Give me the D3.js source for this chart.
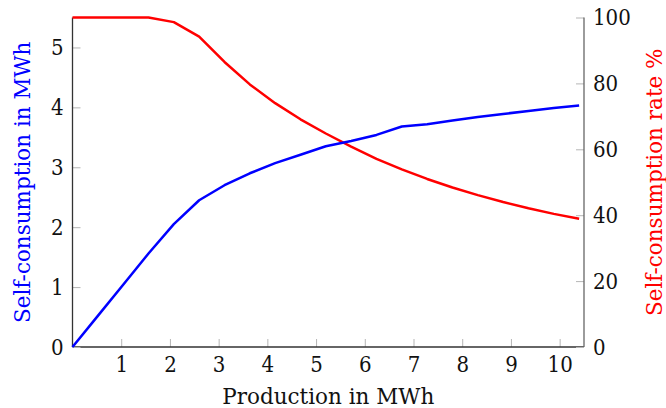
<!DOCTYPE html>
<html lang="en">
  <head>
    <meta charset="utf-8" />
    <title>Self-consumption</title>
    <script src="https://d3js.org/d3.v7.min.js"></script>
    <style type="text/css">
      body {
        margin: 0;
        background: #fff;
      }
      .tick text {
        font-family: "DejaVu Serif Condensed", "DejaVu Serif", serif;
        font-size: 22px;
        fill: #111;
      }
      .label {
        font-family: "DejaVu Serif", serif;
        font-size: 21.5px;
      }
    </style>
  </head>
  <body>
    <script type="text/javascript">
      // Data
      var production = [0, 0.52, 1.04, 1.56, 2.08, 2.6, 3.12, 3.64, 4.16, 4.68, 5.2,
        5.72, 6.24, 6.76, 7.28, 7.8, 8.32, 8.84, 9.36, 9.88, 10.4];
      var selfConsumption = [0, 0.52, 1.04, 1.56, 2.05, 2.45, 2.7, 2.9, 3.07, 3.21, 3.35,
        3.44, 3.54, 3.68, 3.72, 3.78, 3.84, 3.89, 3.94, 3.99, 4.03];
      var selfRate = [100, 100, 100, 100, 98.6, 94.2, 86.5, 79.7, 74.0, 69.1, 64.8,
        60.8, 57.1, 53.9, 51.0, 48.4, 46.1, 44.0, 42.1, 40.4, 38.9];

      var xTicks = [1, 2, 3, 4, 5, 6, 7, 8, 9, 10];
      var leftTicks = [0, 1, 2, 3, 4, 5];
      var rightTicks = [0, 20, 40, 60, 80, 100];

      var W = 666, H = 408;
      var margin = { top: 17.5, right: 82, bottom: 61, left: 72.5 };
      var w = W - margin.left - margin.right;
      var h = H - margin.top - margin.bottom;

      var svg = d3
        .select("body")
        .append("svg")
        .attr("width", W)
        .attr("height", H);

      var g = svg
        .append("g")
        .attr("transform", "translate(" + margin.left + "," + margin.top + ")");

      var x = d3.scaleLinear().domain([0, 10.5]).range([0, w]);
      var yLeft = d3.scaleLinear().domain([0, 5.5]).range([h, 0]);
      var yRight = d3.scaleLinear().domain([0, 100]).range([h, 0]);

      //Axes with inward ticks
      var xAxis = d3.axisBottom(x).tickValues(xTicks).tickSize(-8).tickPadding(9)
        .tickFormat(d3.format("d"));
      var leftAxis = d3.axisLeft(yLeft).tickValues(leftTicks).tickSize(-8).tickPadding(9)
        .tickFormat(d3.format("d"));
      var rightAxis = d3.axisRight(yRight).tickValues(rightTicks).tickSize(-8).tickPadding(9)
        .tickFormat(d3.format("d"));

      function styleAxis(sel, lineColor) {
        sel.select(".domain").remove();
        sel.selectAll(".tick line").attr("stroke", "#b5b5b5").attr("stroke-width", 1);
        sel.append("line").attr("class", "axisline").attr("stroke", lineColor)
          .attr("stroke-width", 1.3);
      }

      var gx = g.append("g").attr("transform", "translate(0," + h + ")").call(xAxis);
      styleAxis(gx, "#333");
      gx.select(".axisline").attr("x1", 0).attr("x2", w).attr("y1", 0).attr("y2", 0);

      var gl = g.append("g").call(leftAxis);
      styleAxis(gl, "#333");
      gl.select(".axisline").attr("x1", 0).attr("x2", 0).attr("y1", 0).attr("y2", h);

      var gr = g.append("g").attr("transform", "translate(" + w + ",0)").call(rightAxis);
      styleAxis(gr, "#666");
      gr.select(".axisline").attr("x1", 0).attr("x2", 0).attr("y1", 0).attr("y2", h);

      //Lines
      var blueLine = d3.line()
        .x(function (d, i) { return x(production[i]); })
        .y(function (d) { return yLeft(d); });
      var redLine = d3.line()
        .x(function (d, i) { return x(production[i]); })
        .y(function (d) { return yRight(d); });

      g.append("path").datum(selfRate)
        .attr("d", redLine)
        .attr("fill", "none")
        .attr("stroke", "#f00")
        .attr("stroke-width", 2.5)
        .attr("stroke-linejoin", "round");

      g.append("path").datum(selfConsumption)
        .attr("d", blueLine)
        .attr("fill", "none")
        .attr("stroke", "#00f")
        .attr("stroke-width", 2.5)
        .attr("stroke-linejoin", "round");

      //Axis labels
      svg.append("text").attr("class", "label")
        .attr("x", margin.left + w / 2).attr("y", 404)
        .attr("text-anchor", "middle").attr("fill", "#111")
        .text("Production in MWh");

      svg.append("text").attr("class", "label")
        .attr("transform", "translate(30," + (margin.top + h / 2) + ") rotate(-90)")
        .attr("text-anchor", "middle").attr("fill", "#00f")
        .text("Self-consumption in MWh");

      svg.append("text").attr("class", "label")
        .attr("transform", "translate(662," + (margin.top + h / 2) + ") rotate(-90)")
        .attr("text-anchor", "middle").attr("fill", "#f00")
        .text("Self-consumption rate %");
    </script>
  </body>
</html>
